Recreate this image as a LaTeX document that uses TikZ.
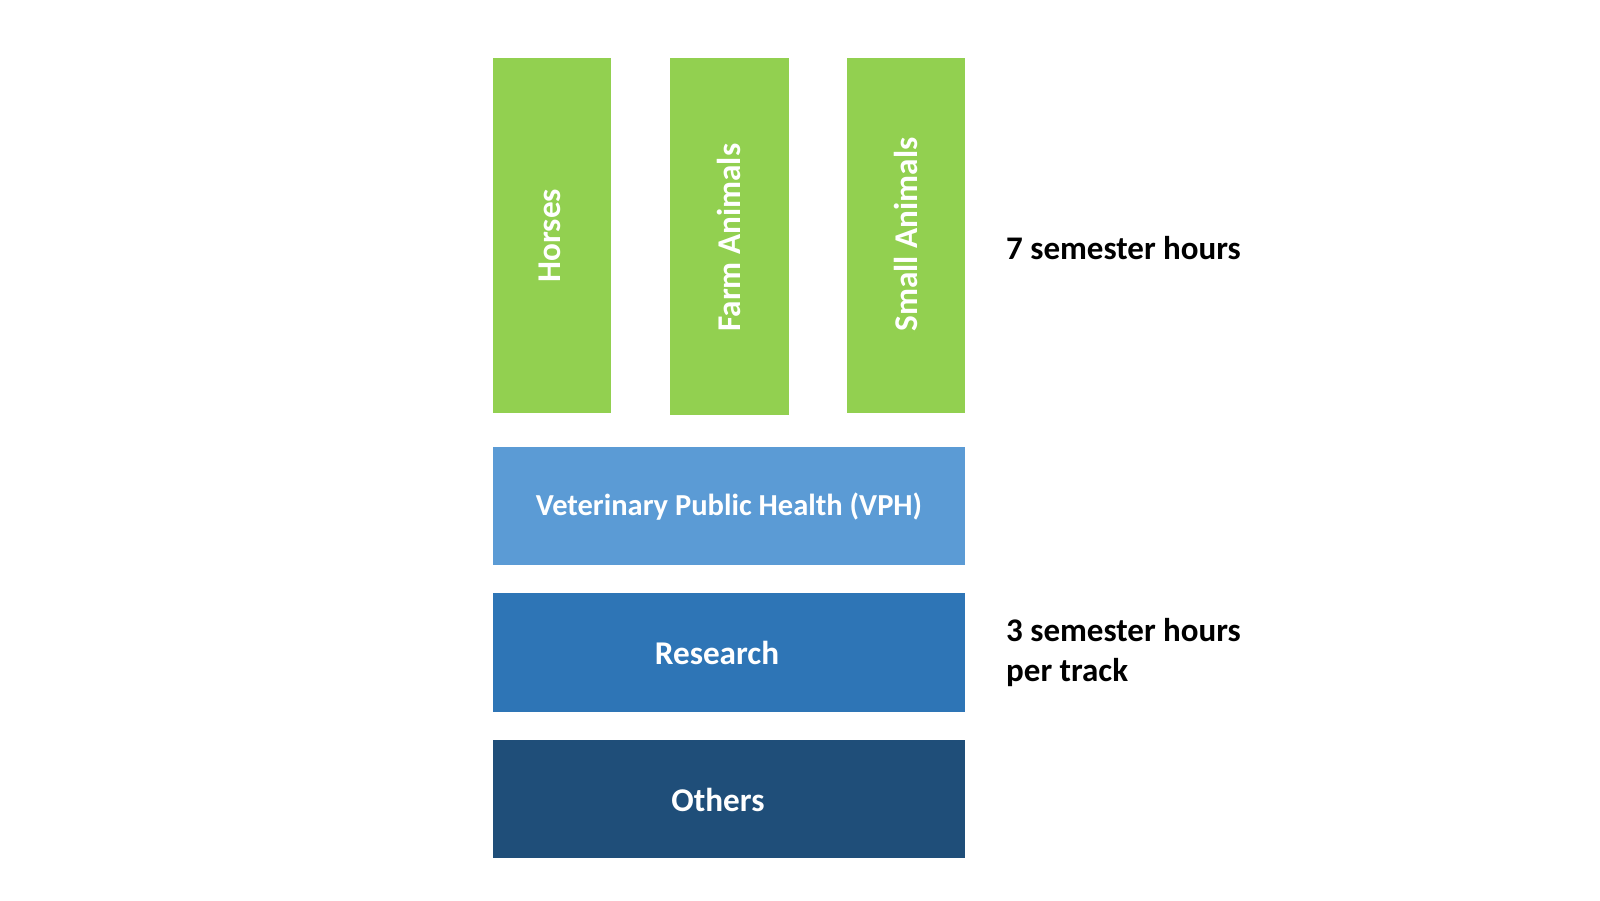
\documentclass[tikz,border=0pt]{standalone}
\usepackage{fontspec}
\setmainfont{Carlito}
\definecolor{cgreen}{HTML}{92D050}
\definecolor{cvph}{HTML}{5B9BD5}
\definecolor{cres}{HTML}{2E75B6}
\definecolor{coth}{HTML}{1F4E79}
\begin{document}
\begin{tikzpicture}[x=1pt,y=-1pt,
  box/.style={draw=none, inner sep=0pt, outer sep=0pt},
  lbl/.style={text=white, font=\fontsize{33.2}{40}\selectfont\bfseries, inner sep=0pt},
  side/.style={text=black, font=\fontsize{33}{40}\selectfont\bfseries, inner sep=0pt, align=left}]
\fill[white] (0,0) rectangle (1600,900);
\useasboundingbox (0,0) rectangle (1600,900);
% green columns
\node[box, fill=cgreen, minimum width=118pt, minimum height=354.5pt] (horses) at (552,235.5) {};
\node[box, fill=cgreen, minimum width=118.5pt, minimum height=357pt] (farm) at (729.3,236.7) {};
\node[box, fill=cgreen, minimum width=118pt, minimum height=354.5pt] (small) at (906.3,235.5) {};
\node[lbl, rotate=90] (thorses) at ([xshift=-2pt]horses.center) {Horses};
\node[lbl, rotate=90] (tfarm) at ([yshift=-1pt]farm.center) {Farm Animals};
\node[lbl, rotate=90] (tsmall) at ([yshift=1pt]small.center) {Small Animals};
% horizontal bars
\node[box, fill=cvph, minimum width=472pt, minimum height=118.3pt] (vph) at (729,505.8) {};
\node[box, fill=cres, minimum width=472pt, minimum height=118.4pt] (res) at (729,652.5) {};
\node[box, fill=coth, minimum width=472pt, minimum height=118.3pt] (oth) at (729,799.2) {};
\node[lbl, font=\fontsize{30.5}{37}\selectfont\bfseries] (tvph) at ([yshift=-1pt]vph.center) {Veterinary Public Health (VPH)};
\node[lbl] (tres) at ([xshift=-12pt]res.center) {Research};
\node[lbl] (toth) at ([xshift=-11pt,yshift=-1pt]oth.center) {Others};
% side labels
\node[side, anchor=base west] (seven) at (1006,259) {7 semester hours};
\node[side, anchor=base west] (three) at (1006,681.7) {3 semester hours\\per track};
\end{tikzpicture}
\end{document}
